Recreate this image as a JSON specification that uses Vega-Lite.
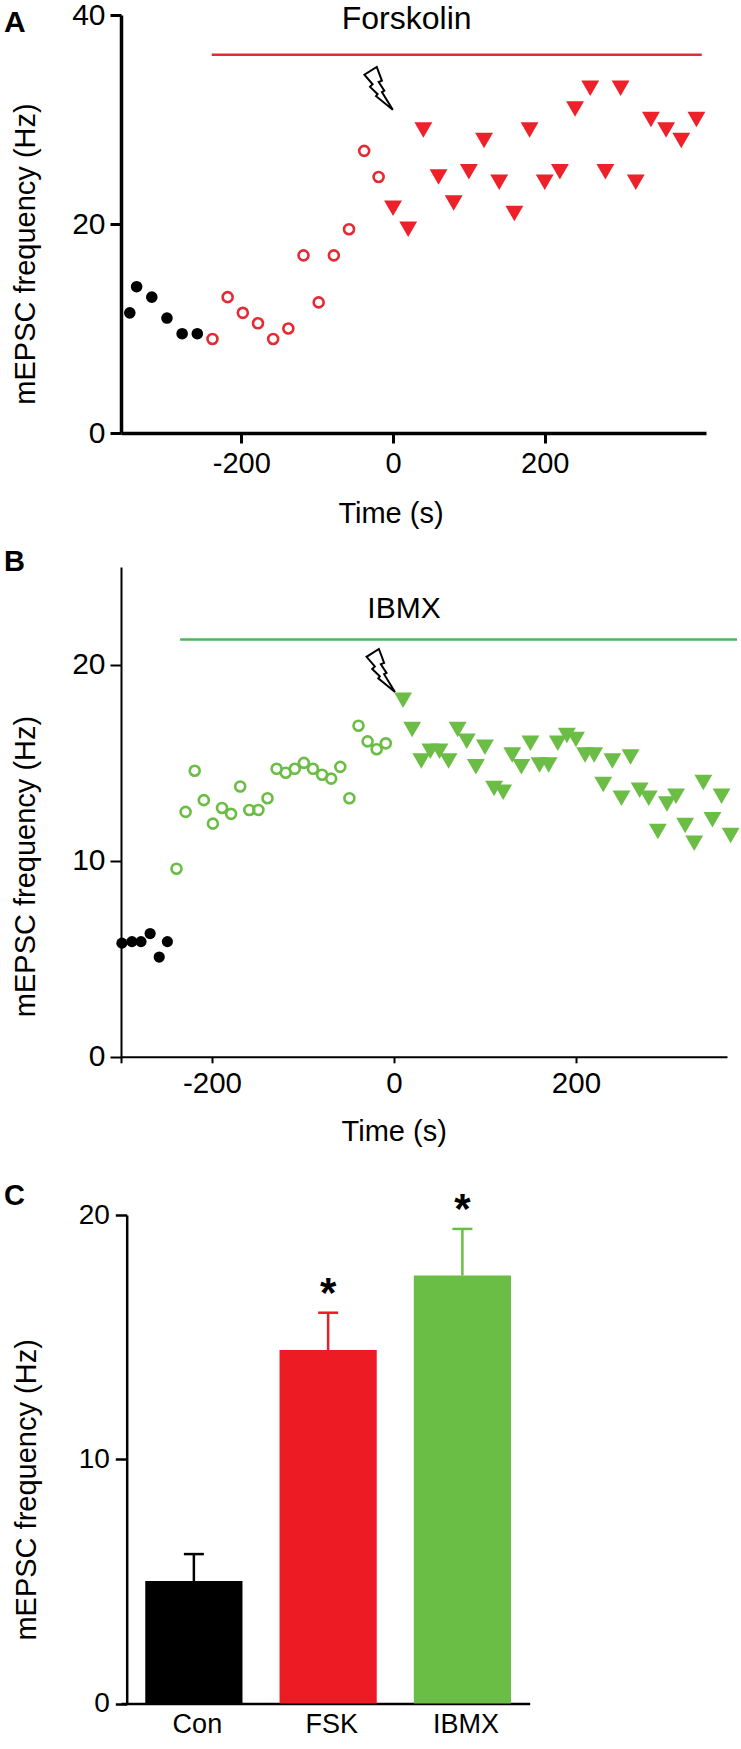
{
"$schema":"https://vega.github.io/schema/vega-lite/v6.json",
"background":"white",
"padding":{"left":3,"top":0,"right":0,"bottom":0},
"align":"none",
"spacing":34,
"config":{"view":{"stroke":null},"text":{"font":"Liberation Sans"},"axis":{"labelFont":"Liberation Sans","titleFont":"Liberation Sans","labelColor":"black","titleColor":"black","domainColor":"black","tickColor":"black","grid":false,"titleFontWeight":"normal","labelOverlap":false,"labelFlush":false},"title":{"font":"Liberation Sans"}},
"datasets":{
"a_base":[{"time":-347,"freq":11.5},{"time":-338,"freq":14},{"time":-318,"freq":13},{"time":-298,"freq":11},{"time":-278,"freq":9.5},{"time":-258,"freq":9.5}],
"a_forsk":[{"time":-238,"freq":9},{"time":-218,"freq":13},{"time":-198,"freq":11.5},{"time":-178,"freq":10.5},{"time":-158,"freq":9},{"time":-138,"freq":10},{"time":-118,"freq":17},{"time":-98,"freq":12.5},{"time":-78,"freq":17},{"time":-58,"freq":19.5},{"time":-38,"freq":27},{"time":-19,"freq":24.5}],
"a_post":[{"time":0,"freq":21.5},{"time":20,"freq":19.5},{"time":40,"freq":29},{"time":60,"freq":24.5},{"time":80,"freq":22},{"time":100,"freq":25},{"time":120,"freq":28},{"time":140,"freq":24},{"time":160,"freq":21},{"time":180,"freq":29},{"time":200,"freq":24},{"time":220,"freq":25},{"time":240,"freq":31},{"time":260,"freq":33},{"time":280,"freq":25},{"time":300,"freq":33},{"time":320,"freq":24},{"time":340,"freq":30},{"time":360,"freq":29},{"time":380,"freq":28},{"time":400,"freq":30}],
"b_base":[{"time":-299,"freq":5.8},{"time":-288,"freq":5.88},{"time":-278,"freq":5.88},{"time":-268,"freq":6.29},{"time":-258,"freq":5.09},{"time":-249,"freq":5.88}],
"b_ibmx":[{"time":-239,"freq":9.6},{"time":-229,"freq":12.5},{"time":-219,"freq":14.6},{"time":-209,"freq":13.1},{"time":-199,"freq":11.9},{"time":-189,"freq":12.7},{"time":-179,"freq":12.4},{"time":-169,"freq":13.8},{"time":-159,"freq":12.6},{"time":-149,"freq":12.6},{"time":-139,"freq":13.2},{"time":-129,"freq":14.7},{"time":-119,"freq":14.5},{"time":-109,"freq":14.7},{"time":-99,"freq":15},{"time":-89,"freq":14.7},{"time":-79,"freq":14.4},{"time":-69,"freq":14.2},{"time":-59,"freq":14.8},{"time":-49,"freq":13.2},{"time":-39,"freq":16.9},{"time":-29,"freq":16.1},{"time":-19,"freq":15.7},{"time":-9,"freq":16}],
"b_post":[{"time":10,"freq":18.2},{"time":20,"freq":16.7},{"time":30,"freq":15.1},{"time":40,"freq":15.6},{"time":50,"freq":15.6},{"time":60,"freq":15.1},{"time":70,"freq":16.7},{"time":80,"freq":16.1},{"time":90,"freq":14.8},{"time":100,"freq":15.8},{"time":110,"freq":13.7},{"time":120,"freq":13.5},{"time":130,"freq":15.4},{"time":140,"freq":14.8},{"time":150,"freq":16},{"time":160,"freq":14.9},{"time":170,"freq":14.9},{"time":180,"freq":16},{"time":190,"freq":16.4},{"time":200,"freq":16.2},{"time":210,"freq":15.4},{"time":220,"freq":15.4},{"time":230,"freq":13.9},{"time":240,"freq":15.1},{"time":250,"freq":13.2},{"time":260,"freq":15.3},{"time":270,"freq":13.6},{"time":280,"freq":13.2},{"time":290,"freq":11.5},{"time":300,"freq":12.9},{"time":310,"freq":13.3},{"time":320,"freq":11.8},{"time":330,"freq":10.9},{"time":340,"freq":14},{"time":350,"freq":12.1},{"time":360,"freq":13.3},{"time":370,"freq":11.3}],
"bars":[{"group":"Con","mean":5.02,"upper":6.12},{"group":"FSK","mean":14.47,"upper":16,"star":"*","starAt":17.4},{"group":"IBMX","mean":17.52,"upper":19.43,"star":"*","starAt":20.8}]
},
"vconcat":[
{"align":"none","spacing":19,"vconcat":[
{
"width":585,"height":418,
"layer":[
{"data":{"name":"a_base"},"mark":{"type":"point","shape":"circle","filled":true,"color":"black","size":135,"opacity":1},
"encoding":{
"x":{"field":"time","type":"quantitative","scale":{"domain":[-358.6,412.6],"nice":false,"zero":false},
"axis":{"values":[-200,0,200],"labelExpr":"''+datum.value","title":"Time (s)","titleFontSize":29,"titleX":269.5,"titleY":80,"titleBaseline":"middle","labelFontSize":29,"tickSize":10,"tickWidth":3,"domainWidth":3.5,"labelPadding":6}},
"y":{"field":"freq","type":"quantitative","scale":{"domain":[0,40],"nice":false},
"axis":{"values":[0,20,40],"title":"mEPSC frequency (Hz)","titleFontSize":29,"titleX":-96,"titleY":238.5,"titleBaseline":"middle","labelFontSize":30,"tickSize":11,"tickWidth":3,"domainWidth":3.5,"labelPadding":5}}
}},
{"data":{"name":"a_forsk"},"mark":{"type":"point","shape":"circle","filled":false,"color":"#E32B33","strokeWidth":2.6,"size":100,"opacity":1},
"encoding":{"x":{"field":"time","type":"quantitative"},"y":{"field":"freq","type":"quantitative"}}},
{"data":{"name":"a_post"},"mark":{"type":"point","shape":"triangle-down","filled":true,"color":"#ED2129","size":320,"opacity":1},
"encoding":{"x":{"field":"time","type":"quantitative"},"y":{"field":"freq","type":"quantitative"}}},
{"data":{"values":[{"from":-239,"to":407,"level":36.2}]},"mark":{"type":"rule","color":"#E32B33","strokeWidth":2.5},
"encoding":{"x":{"field":"from","type":"quantitative"},"x2":{"field":"to"},"y":{"field":"level","type":"quantitative"}}},
{"data":{"values":[{"label":"Forskolin","time":18,"freq":39.6}]},"mark":{"type":"text","fontSize":32,"baseline":"middle","align":"center","color":"black"},
"encoding":{"text":{"field":"label"},"x":{"field":"time","type":"quantitative"},"y":{"field":"freq","type":"quantitative"}}},
{"data":{"values":[{"label":"A","time":-512.9,"freq":39.2}]},"mark":{"type":"text","fontSize":30,"fontWeight":"bold","baseline":"middle","align":"left","color":"black"},
"encoding":{"text":{"field":"label"},"x":{"field":"time","type":"quantitative"},"y":{"field":"freq","type":"quantitative"}}},
{"data":{"values":[{"time":-18.9,"freq":33}]},"mark":{"type":"point","shape":"M-0.09,-0.98L0.15,-0.34L0,-0.28L0.26,0.12L0.15,0.18L0.65,1L-0.12,0.37L-0.05,0.28L-0.4,-0.06L-0.28,-0.18L-0.66,-0.62Z","filled":false,"color":"black","strokeWidth":2,"size":1877,"opacity":1},
"encoding":{"x":{"field":"time","type":"quantitative"},"y":{"field":"freq","type":"quantitative"}}}
]},
{
"width":606,"height":489.8,
"layer":[
{"data":{"name":"b_base"},"mark":{"type":"point","shape":"circle","filled":true,"color":"black","size":125,"opacity":1},
"encoding":{
"x":{"field":"time","type":"quantitative","scale":{"domain":[-300,366],"nice":false,"zero":false},
"axis":{"values":[-300,-200,0,200],"labelExpr":"datum.value==-300?'':''+datum.value","title":"Time (s)","titleFontSize":29,"titleX":272.7,"titleY":75,"titleBaseline":"middle","labelFontSize":29.5,"tickSize":6,"tickWidth":2,"domainWidth":2,"labelPadding":7}},
"y":{"field":"freq","type":"quantitative","scale":{"domain":[0,25],"nice":false},
"axis":{"values":[0,10,20],"title":"mEPSC frequency (Hz)","titleFontSize":29,"titleX":-96,"titleY":299,"titleBaseline":"middle","labelFontSize":30,"tickSize":11,"tickWidth":2,"domainWidth":2,"labelPadding":5}}
}},
{"data":{"name":"b_ibmx"},"mark":{"type":"point","shape":"circle","filled":false,"color":"#6BBD45","strokeWidth":2.6,"size":100,"opacity":1},
"encoding":{"x":{"field":"time","type":"quantitative"},"y":{"field":"freq","type":"quantitative"}}},
{"data":{"name":"b_post"},"mark":{"type":"point","shape":"triangle-down","filled":true,"color":"#6BBD45","size":320,"opacity":1},
"encoding":{"x":{"field":"time","type":"quantitative"},"y":{"field":"freq","type":"quantitative"}}},
{"data":{"values":[{"from":-235,"to":377,"level":21.3}]},"mark":{"type":"rule","color":"#4DB65A","strokeWidth":2.5},
"encoding":{"x":{"field":"from","type":"quantitative"},"x2":{"field":"to"},"y":{"field":"level","type":"quantitative"}}},
{"data":{"values":[{"label":"IBMX","time":11,"freq":22.84}]},"mark":{"type":"text","fontSize":30,"baseline":"middle","align":"center","color":"black"},
"encoding":{"text":{"field":"label"},"x":{"field":"time","type":"quantitative"},"y":{"field":"freq","type":"quantitative"}}},
{"data":{"values":[{"label":"B","time":-428.6,"freq":25.27}]},"mark":{"type":"text","fontSize":29,"fontWeight":"bold","baseline":"middle","align":"left","color":"black"},
"encoding":{"text":{"field":"label"},"x":{"field":"time","type":"quantitative"},"y":{"field":"freq","type":"quantitative"}}},
{"data":{"values":[{"time":-14.4,"freq":19.73}]},"mark":{"type":"point","shape":"M-0.09,-0.98L0.15,-0.34L0,-0.28L0.26,0.12L0.15,0.18L0.65,1L-0.12,0.37L-0.05,0.28L-0.4,-0.06L-0.28,-0.18L-0.66,-0.62Z","filled":false,"color":"black","strokeWidth":2,"size":1877,"opacity":1},
"encoding":{"x":{"field":"time","type":"quantitative"},"y":{"field":"freq","type":"quantitative"}}}
]}
]},
{
"width":408.7,"height":488.6,
"data":{"name":"bars"},
"title":{"text":"C","anchor":"start","frame":"group","orient":"top","dx":-117,"offset":-21.5,"fontSize":29,"fontWeight":"bold","color":"black"},
"encoding":{
"x":{"field":"group","type":"nominal","sort":null,"scale":{"paddingInner":0.276,"paddingOuter":0.16,"align":0.565},
"axis":{"title":null,"labelAngle":0,"ticks":false,"labelFontSize":27,"domainWidth":2.5,"labelPadding":8,"labelOffset":3.5}}
},
"layer":[
{"mark":{"type":"rule","strokeWidth":2.5},
"encoding":{"y":{"field":"mean","type":"quantitative"},"y2":{"field":"upper"},"color":{"field":"group","type":"nominal","sort":null,"scale":{"domain":["Con","FSK","IBMX"],"range":["#000000","#ED1C24","#6ABD45"]},"legend":null}}},
{"mark":{"type":"tick","thickness":2.5,"size":20,"opacity":1},
"encoding":{"y":{"field":"upper","type":"quantitative"},"color":{"field":"group","type":"nominal","sort":null,"legend":null}}},
{"mark":{"type":"bar","opacity":1},
"encoding":{"y":{"field":"mean","type":"quantitative","scale":{"domain":[0,20],"nice":false},
"axis":{"offset":-5.7,"values":[0,10,20],"title":"mEPSC frequency (Hz)","titleFontSize":29,"titleX":-100.7,"titleY":274.4,"titleBaseline":"middle","labelFontSize":28,"tickSize":11.4,"tickWidth":2.5,"domainWidth":2.5,"labelPadding":6}},
"color":{"field":"group","type":"nominal","sort":null,"legend":null}}},
{"transform":[{"filter":"datum.star"}],"mark":{"type":"text","fontSize":42,"fontWeight":"bold","baseline":"middle","align":"center","color":"black","dy":15},
"encoding":{"text":{"field":"star"},"y":{"field":"starAt","type":"quantitative"}}}
]}
]
}
